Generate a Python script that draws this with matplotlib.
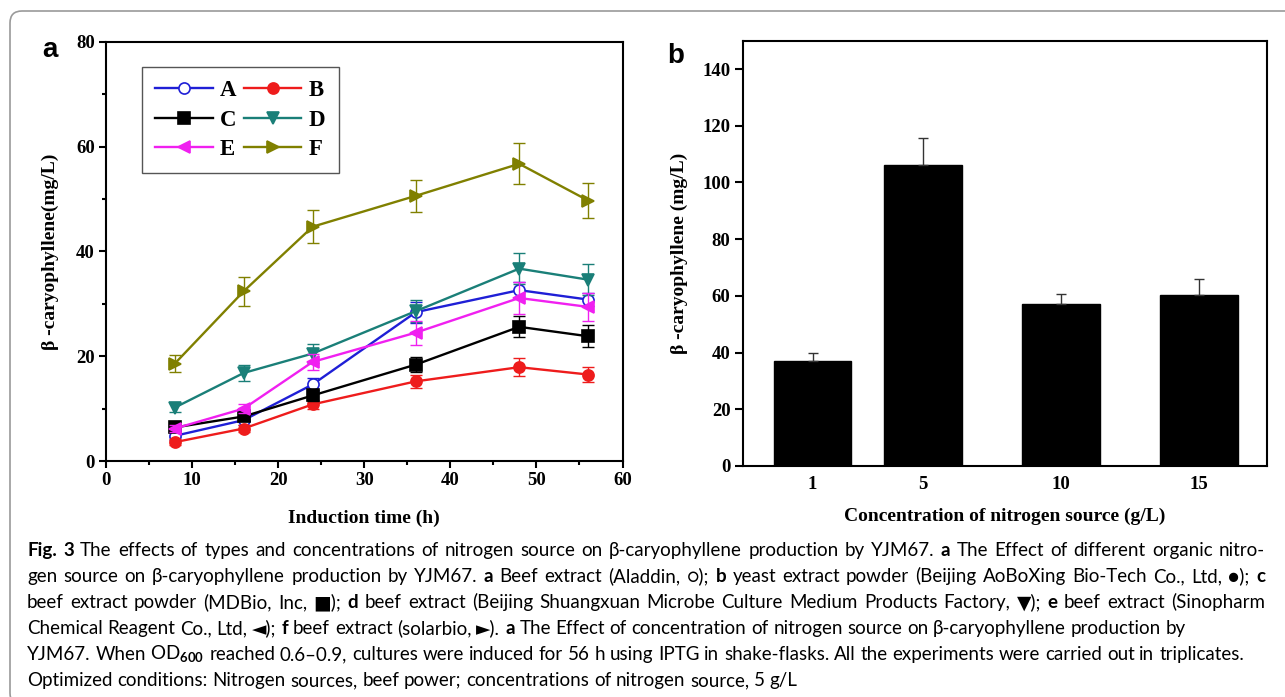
import matplotlib
matplotlib.use("Agg")
from matplotlib import pyplot as plt
from matplotlib.patches import FancyBboxPatch
from matplotlib.transforms import IdentityTransform

# panel a: time course for six nitrogen sources
time = [8, 16, 24, 36, 48, 56]
A = [4.8, 7.8, 14.6, 28.4, 32.6, 30.8]
B = [3.6, 6.2, 10.8, 15.2, 17.9, 16.5]
C = [6.4, 8.5, 12.5, 18.4, 25.6, 23.8]
D = [10.2, 16.8, 20.5, 28.6, 36.7, 34.6]
E = [6.2, 10.0, 18.9, 24.5, 31.1, 29.4]
F = [18.6, 32.4, 44.7, 50.6, 56.7, 49.7]
errA = [0.8, 0.9, 1.2, 2.0, 1.5, 1.3]
errB = [0.6, 0.7, 0.8, 1.2, 1.7, 1.4]
errC = [0.7, 0.8, 1.0, 1.4, 2.0, 2.1]
errD = [0.8, 1.5, 1.8, 2.1, 2.9, 2.9]
errE = [0.6, 0.8, 1.5, 2.3, 3.1, 2.7]
errF = [1.7, 2.8, 3.1, 3.1, 3.9, 3.4]

# panel b: nitrogen source concentration
conc = [1, 5, 10, 15]
conc_labels = ["1", "5", "10", "15"]
caryo = [37.0, 106.0, 57.0, 60.2]
caryo_err = [2.8, 9.6, 3.8, 5.6]

caption = [
    [("Fig. 3", True), ("The effects of types and concentrations of nitrogen source on β-caryophyllene production by YJM67.", False),
     ("a", True), ("The Effect of different organic nitro-", False)],
    [("gen source on β-caryophyllene production by YJM67.", False), ("a", True), ("Beef extract (Aladdin, ○);", False),
     ("b", True), ("yeast extract powder (Beijing AoBoXing Bio-Tech Co., Ltd, ●);", False), ("c", True)],
    [("beef extract powder (MDBio, Inc, ■);", False), ("d", True),
     ("beef extract (Beijing Shuangxuan Microbe Culture Medium Products Factory, ▼);", False), ("e", True),
     ("beef extract (Sinopharm", False)],
    [("Chemical Reagent Co., Ltd, ◄);", False), ("f", True), ("beef extract (solarbio, ►).", False), ("a", True),
     ("The Effect of concentration of nitrogen source on β-caryophyllene production by", False)],
    [("YJM67. When OD$_{600}$ reached 0.6–0.9, cultures were induced for 56 h using IPTG in shake-flasks. All the experiments were carried out in triplicates.", False)],
    [("Optimized conditions: Nitrogen sources, beef power; concentrations of nitrogen source, 5 g/L", False)],
]

plt.rcParams["font.family"] = ["Liberation Serif", "DejaVu Serif"]
plt.rcParams["font.weight"] = "bold"
plt.rcParams["axes.labelweight"] = "bold"
plt.rcParams["mathtext.fontset"] = "custom"
plt.rcParams["mathtext.rm"] = "Lato"

W, H = 1285, 697
fig = plt.figure(figsize=(W / 100, H / 100), dpi=100)


def fx(x):
    return x / W


def fy(y):
    return 1 - y / H


# rounded frame around the whole figure
fig.add_artist(FancyBboxPatch((10, -8), 1300, H - 11 + 8, boxstyle="round,pad=0,rounding_size=12",
                              transform=IdentityTransform(), facecolor="none", edgecolor="#9a9a9a", lw=1.2))

# ---- panel a ----
ax1 = fig.add_axes([fx(106), fy(461), (622.5 - 106) / W, (461 - 41.7) / H])
series = [("A", A, errA, "#1f1fd6", "o", "white"),
          ("B", B, errB, "#ee1c1c", "o", None),
          ("C", C, errC, "black", "s", None),
          ("D", D, errD, "#1a7f78", "v", None),
          ("E", E, errE, "#f020f0", "<", None),
          ("F", F, errF, "#808000", ">", None)]
handles = {}
for name, vals, err, col, mk, mfc in series:
    ax1.errorbar(time, vals, yerr=err, fmt="none", ecolor=col, elinewidth=1, capsize=4, capthick=1)
    ln, = ax1.plot(time, vals, color=col, lw=1.7, marker=mk, markersize=8,
                   markerfacecolor=mfc if mfc else col, markeredgecolor=col, markeredgewidth=1.2, label=name)
    handles[name] = ln

ax1.set_xlim(0, 60)
ax1.set_ylim(0, 80)
ax1.set_xticks(range(0, 61, 10))
ax1.set_xticks(range(5, 60, 10), minor=True)
ax1.set_yticks(range(0, 81, 20))
ax1.set_yticks(range(10, 80, 20), minor=True)
ax1.tick_params(which="major", direction="out", length=5, width=1.5, labelsize=13.5, pad=3)
ax1.tick_params(which="minor", direction="out", length=3, width=1.5)
for s in ax1.spines.values():
    s.set_linewidth(1.5)
ax1.set_xlabel("Induction time (h)", fontsize=14, labelpad=15)
ax1.set_ylabel("β -caryophyllene(mg/L)", fontsize=14, labelpad=12)

order = ["A", "C", "E", "B", "D", "F"]
leg = ax1.legend([handles[k] for k in order], order, ncol=2, loc="upper left",
                 bbox_to_anchor=((141.7 - 106) / 516.5, (461 - 66.7) / 419.3), borderaxespad=0,
                 prop={"family": "Liberation Serif", "weight": "bold", "size": 16.5},
                 handlelength=2.5, handletextpad=0.3, columnspacing=0.35, labelspacing=0.35,
                 numpoints=1, fancybox=False, framealpha=1, edgecolor="#555555", borderpad=0.6)
leg.get_frame().set_linewidth(1.0)

# ---- panel b ----
ax2 = fig.add_axes([fx(743), fy(466), (1267 - 743) / W, (466 - 40.7) / H])
ax2.bar(conc, caryo, width=2.82, color="black", edgecolor="black")
ax2.errorbar(conc, caryo, yerr=[[0] * len(caryo_err), caryo_err], fmt="none", ecolor="#333333",
             elinewidth=1, capsize=3.5, capthick=1)
ax2.set_xlim(-1.52, 17.46)
ax2.set_ylim(0, 150)
ax2.set_xticks(conc)
ax2.set_xticklabels(conc_labels)
ax2.set_yticks(range(0, 141, 20))
ax2.tick_params(axis="y", direction="out", length=6, width=1.5, labelsize=13.5, pad=3)
ax2.tick_params(axis="x", length=0, labelsize=13.5, pad=7)
for s in ax2.spines.values():
    s.set_linewidth(1.5)
ax2.set_xlabel("Concentration of nitrogen source (g/L)", fontsize=14, labelpad=11)
ax2.set_ylabel("β -caryophyllene (mg/L)", fontsize=14, labelpad=10)

# panel letters
fig.text(fx(42), fy(57), "a", fontsize=20, fontweight="bold", family="Liberation Sans", va="baseline")
fig.text(fx(667), fy(63), "b", fontsize=20, fontweight="bold", family="Liberation Sans", va="baseline")

# ---- caption: words placed one by one ----
cap_font = ["Lato", "DejaVu Sans"]
renderer = fig.canvas.get_renderer()


def text_w(s, bold, fs):
    t = fig.text(0, 0, s, fontsize=fs, fontweight="bold" if bold else "normal", family=cap_font)
    w = t.get_window_extent(renderer).width
    t.remove()
    return w


def words_of(line):
    out = []
    for seg, bold in line:
        for w in seg.split(" "):
            if w:
                out.append((w, bold))
    return out


base = 16
w5 = text_w(" ".join(w for w, _ in words_of(caption[4])), False, base)
fs = base * (1247 - 27) / w5
space = text_w("a a", False, fs) - text_w("aa", False, fs)

left, right = 27, 1265
for i, line in enumerate(caption):
    words = words_of(line)
    widths = [text_w(w, b, fs) for w, b in words]
    gap = space
    if i < 3 and len(words) > 1:
        gap = (right - left - sum(widths)) / (len(words) - 1)
    x = left
    base_y = 556 + 26 * i
    for (w, b), ww in zip(words, widths):
        fig.text(fx(x), fy(base_y), w, fontsize=fs, fontweight="bold" if b else "normal",
                 family=cap_font, va="baseline")
        x += ww + gap

plt.savefig("out.png", dpi=100)
